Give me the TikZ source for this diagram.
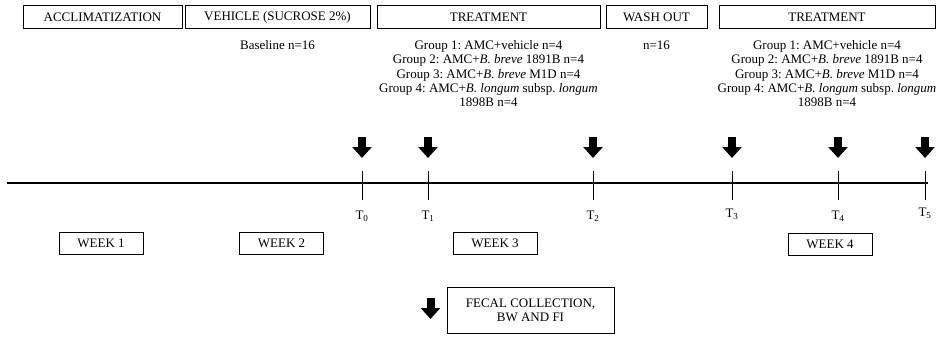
\documentclass[tikz,border=0pt]{standalone}
\usepackage{fontspec}
\setmainfont{Liberation Serif}
\usetikzlibrary{arrows.meta, positioning}
\frenchspacing

\begin{document}
\begin{tikzpicture}[x=1pt, y=-1pt,
every node/.style = {font=\fontsize{13}{14.25}\selectfont},
phase/.style = {draw, line width=1pt, minimum height=23pt, inner sep=2pt},
week/.style  = {draw, line width=1pt, minimum width=84pt,
                minimum height=22pt, inner sep=2pt},
note/.style  = {inner sep=0pt, align=center},
tlab/.style  = {inner sep=0pt},
tick/.style  = {line width=1pt},
tickarrow/.style = {line width=8pt, -{Triangle[width=19pt,length=11pt]}},
                    ]
%---
\useasboundingbox (0,0) rectangle (952,337);

% phases
\node (accl) [phase, minimum width=159pt] at (102.5,17.5) {ACCLIMATIZATION};
\node (veh) [phase, minimum width=185pt, right=2pt of accl] {VEHICLE (SUCROSE 2\%)};
\node (treat1) [phase, minimum width=223pt, right=6pt of veh] {TREATMENT};
\node (wash) [phase, minimum width=101pt, right=5pt of treat1] {WASH OUT};
\node (treat2) [phase, minimum width=216pt, right=11pt of wash] {TREATMENT};

\node (base) [note, below=11pt of veh] {Baseline n=16};
\node (grp1) [note, below=11pt of treat1] {Group 1: AMC+vehicle n=4\\
    Group 2: AMC+\textit{B. breve} 1891B n=4\\
    Group 3: AMC+\textit{B. breve} M1D n=4\\
    Group 4: AMC+\textit{B. longum} subsp. \textit{longum}\\
    1898B n=4};
\node (wn) [note, below=11pt of wash] {n=16};
\node (grp2) [note, below=11pt of treat2] {Group 1: AMC+vehicle n=4\\
    Group 2: AMC+\textit{B. breve} 1891B n=4\\
    Group 3: AMC+\textit{B. breve} M1D n=4\\
    Group 4: AMC+\textit{B. longum} subsp. \textit{longum}\\
    1898B n=4};

% time line
\coordinate (tl_start) at (7,183);
\coordinate (tl_end) at (928,183);
\coordinate (t0) at (362,183);
\coordinate (t1) at (428,183);
\coordinate (t2) at (593,183);
\coordinate (t3) at (732,183);
\coordinate (t4) at (838,183);
\coordinate (t5) at (925,183);

\draw[line width=1.3pt] (tl_start) -- (tl_end);

\path[tick]
        ([yshift=12pt]t0) edge ([yshift=-17pt]t0)
        ([yshift=12pt]t1) edge ([yshift=-17pt]t1)
        ([yshift=12pt]t2) edge ([yshift=-17pt]t2)
        ([yshift=12pt]t3) edge ([yshift=-17pt]t3)
        ([yshift=12pt]t4) edge ([yshift=-17pt]t4)
        ([yshift=12pt]t5) edge ([yshift=-17pt]t5);

\path[tickarrow]
        ([yshift=46pt]t0) edge ([yshift=25pt]t0)
        ([yshift=46pt]t1) edge ([yshift=25pt]t1)
        ([yshift=46pt]t2) edge ([yshift=25pt]t2)
        ([yshift=46pt]t3) edge ([yshift=25pt]t3)
        ([yshift=46pt]t4) edge ([yshift=25pt]t4)
        ([yshift=46pt]t5) edge ([yshift=25pt]t5);

\node (T0) [tlab, below=28pt of t0] {T\textsubscript{0}};
\node (T1) [tlab, below=28pt of t1] {T\textsubscript{1}};
\node (T2) [tlab, below=28pt of t2] {T\textsubscript{2}};
\node (T3) [tlab, below=26pt of t3] {T\textsubscript{3}};
\node (T4) [tlab, below=28pt of t4] {T\textsubscript{4}};
\node (T5) [tlab, below=25pt of t5] {T\textsubscript{5}};

% weeks
\node (wk1) [week] at (101,243) {WEEK 1};
\node (wk2) [week] at (281.5,243) {WEEK 2};
\node (wk3) [week] at (495,243) {WEEK 3};
\node (wk4) [week] at (830,244) {WEEK 4};

% legend
\node (fecal) [draw, line width=1pt, minimum width=167pt, minimum height=46pt,
               align=center] at (530.5,310) {FECAL COLLECTION,\\BW AND FI};
\draw[tickarrow] ([xshift=-16pt,yshift=12pt]fecal.west) -- ([xshift=-16pt,yshift=-9pt]fecal.west);

\end{tikzpicture}
\end{document}
